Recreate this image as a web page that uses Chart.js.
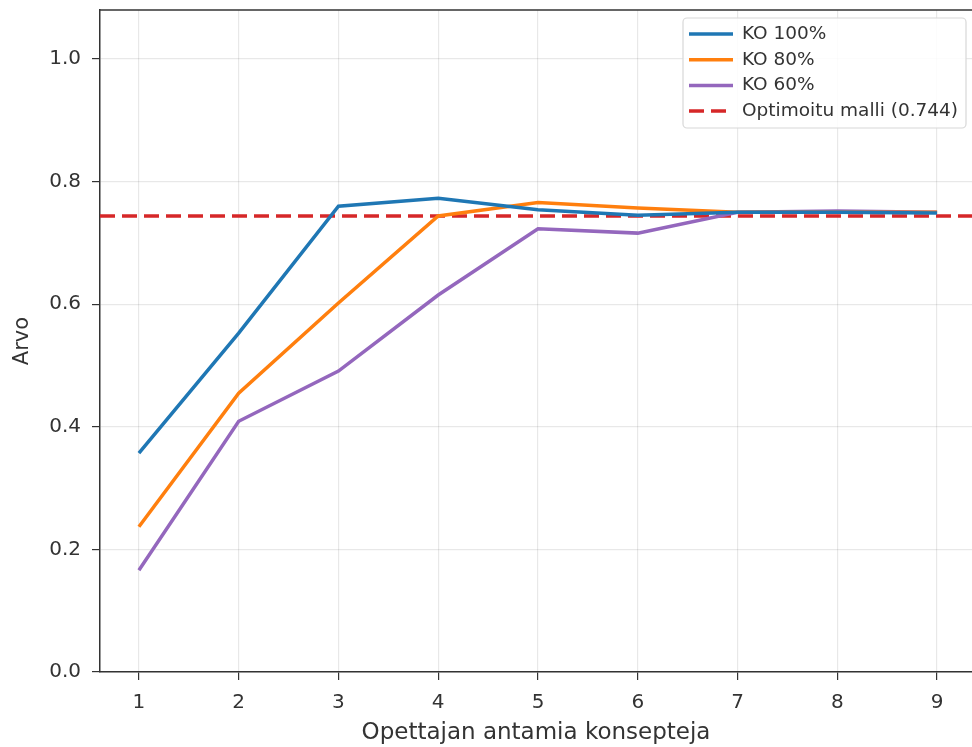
<!DOCTYPE html>
<html>
<head>
<meta charset="utf-8">
<script src="https://cdn.jsdelivr.net/npm/chart.js@4.4.1/dist/chart.umd.min.js"></script>
<style>
  html, body { margin: 0; padding: 0; background: #fff; }
  #wrap { width: 972px; height: 747px; }
</style>
</head>
<body>
<div id="wrap"><canvas id="chart" width="972" height="747"></canvas></div>
<script>
// Konseptien määrä (x-akseli)
const konseptit = [1, 2, 3, 4, 5, 6, 7, 8, 9];

// Sarjat luettu kuvasta
const ko100 = [0.357, 0.553, 0.760, 0.773, 0.754, 0.745, 0.750, 0.750, 0.749];
const ko80  = [0.237, 0.455, 0.602, 0.744, 0.766, 0.757, 0.750, 0.750, 0.750];
const ko60  = [0.166, 0.409, 0.491, 0.615, 0.723, 0.716, 0.750, 0.752, 0.750];
const optimoitu = 0.744;

const yTicks = [0.0, 0.2, 0.4, 0.6, 0.8, 1.0];
const xMin = 0.61, xMax = 9.35;

const sarjat = [
    { label: 'KO 100%', data: ko100, color: '#1f77b4' },
    { label: 'KO 80%', data: ko80, color: '#ff7f0e' },
    { label: 'KO 60%', data: ko60, color: '#9467bd' }
];

const fontti = 'DejaVu Sans';

let datasets = sarjat.map(function(s) {
    return {
        label: s.label,
        data: konseptit.map((x, i) => ({ x: x, y: s.data[i] })),
        borderColor: s.color,
        borderWidth: 3.5,
        pointRadius: 0,
        fill: false,
        tension: 0
    };
});
datasets.push({
    label: 'Optimoitu malli (' + optimoitu.toFixed(3) + ')',
    data: [{ x: xMin, y: optimoitu }, { x: xMax, y: optimoitu }],
    borderColor: '#d62728',
    borderWidth: 3.5,
    borderDash: [15, 7],
    pointRadius: 0,
    fill: false
});

// Legenda piirtoalueen sisään oikeaan yläkulmaan
const legendaPlugin = {
    id: 'legenda',
    afterDraw(chart) {
        const ctx = chart.ctx;
        const a = chart.chartArea;
        const x0 = 683, y0 = a.top + 8, w = 283, h = 110;
        ctx.save();
        ctx.fillStyle = 'rgba(255,255,255,0.85)';
        ctx.strokeStyle = '#d8d8d8';
        ctx.lineWidth = 1.2;
        ctx.beginPath();
        ctx.roundRect(x0, y0, w, h, 4);
        ctx.fill();
        ctx.stroke();
        ctx.font = '18.5px "' + fontti + '"';
        ctx.textBaseline = 'middle';
        chart.data.datasets.forEach(function(ds, i) {
            const y = y0 + 16 + i * 25.7;
            ctx.strokeStyle = ds.borderColor;
            ctx.lineWidth = ds.borderWidth;
            ctx.setLineDash(ds.borderDash || []);
            ctx.beginPath();
            ctx.moveTo(x0 + 6, y);
            ctx.lineTo(x0 + 50, y);
            ctx.stroke();
            ctx.setLineDash([]);
            ctx.fillStyle = '#333';
            ctx.fillText(ds.label, x0 + 59, y);
        });
        // yläreuna
        ctx.strokeStyle = '#333';
        ctx.lineWidth = 1.5;
        ctx.beginPath();
        ctx.moveTo(a.left, a.top);
        ctx.lineTo(a.right, a.top);
        ctx.stroke();
        ctx.restore();
    }
};

new Chart(document.getElementById('chart'), {
    type: 'line',
    data: { datasets: datasets },
    options: {
        responsive: false,
        animation: false,
        layout: { padding: { top: 10, right: 0, left: 0, bottom: 0 } },
        plugins: { legend: { display: false }, tooltip: { enabled: false } },
        scales: {
            x: {
                type: 'linear',
                min: xMin,
                max: xMax,
                afterBuildTicks: s => { s.ticks = konseptit.map(v => ({ value: v })); },
                afterFit: s => { s.height = 75; s.paddingLeft = 0; s.paddingRight = 0; },
                grid: { color: 'rgba(0,0,0,0.09)', lineWidth: 1.2, tickColor: '#333', tickLength: 8 },
                border: { color: '#333', width: 1.5 },
                ticks: { color: '#333', font: { family: fontti, size: 20 }, padding: 11, maxRotation: 0 },
                title: { display: true, text: 'Opettajan antamia konsepteja', color: '#333', font: { family: fontti, size: 23 }, padding: { top: 0, bottom: 0 } }
            },
            y: {
                min: 0,
                max: 1.08,
                afterBuildTicks: s => { s.ticks = yTicks.map(v => ({ value: v })); },
                afterFit: s => { s.width = 100; s.paddingTop = 0; s.paddingBottom = 0; },
                grid: { color: 'rgba(0,0,0,0.09)', lineWidth: 1.2, tickColor: '#333', tickLength: 8 },
                border: { color: '#333', width: 1.5 },
                ticks: { color: '#333', font: { family: fontti, size: 20 }, padding: 11, callback: v => v.toFixed(1) },
                title: { display: true, text: 'Arvo', color: '#333', font: { family: fontti, size: 21 }, padding: { top: 10, bottom: 0 } }
            }
        }
    },
    plugins: [legendaPlugin]
});
</script>
</body>
</html>
